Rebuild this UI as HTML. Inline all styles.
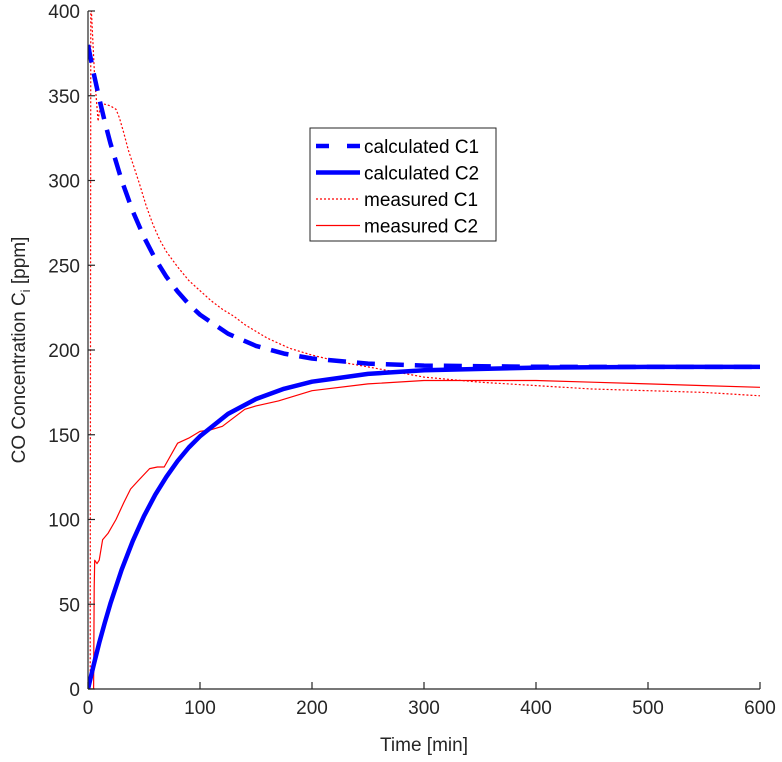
<!DOCTYPE html>
<html><head><meta charset="utf-8"><style>
body{margin:0;background:#fff;}
svg{display:block;font-family:"Liberation Sans",sans-serif;}
</style></head><body>
<svg id="chart" width="782" height="762"></svg>
<script>
const xTicks=[0,100,200,300,400,500,600];
const yTicks=[0,50,100,150,200,250,300,350,400];
const calcT=[0,5,10,15,20,30,40,50,60,70,80,90,100,125,150,175,200,250,300,400,500,600];
const calcC1=[380,363.5,348.5,334.6,322,300.2,281.8,266.6,253.8,243.2,234.5,227,220.8,209.6,202.4,197.9,195,192,190.8,190.1,190,190];
const calcC2=[0,14,27.2,39.1,50.4,70.3,87.4,102,114.6,125.2,134.5,142.5,149.1,162.3,171.1,177.1,181.3,185.9,188.1,189.6,190,190];
const measC1T=[0,2,2.5,3,6,9,11,15,20,25,28,32,36,40,46,52,58,64,70,80,90,100,110,120,130,140,150,160,180,200,225,250,300,350,400,450,500,550,600];
const measC1=[0,0,400,400,360,335,345,345,344,342,337,328,318,310,298,285,274,265,258,249,241,235,229,224,220,215,211,207,201,197,193,190,184,181,179,177,176,175,173];
const measC2T=[0,5,5.5,6,8,10,13,18,25,32,38,45,55,62,68,80,90,100,110,120,130,140,150,170,200,250,300,350,400,450,500,550,600];
const measC2=[0,0,60,76,74,76,88,92,100,110,118,123,130,131,131,145,148,152,153,155,160,165,167,170,176,180,182,182,182,181,180,179,178];
const X0=88,X1=760,Y0=689,Y1=11;
const sx=t=>X0+(X1-X0)*t/600, sy=v=>Y0-(Y0-Y1)*v/400;
const svg=document.getElementById('chart');const NS='http://www.w3.org/2000/svg';
function mk(tag,attrs,parent){const e=document.createElementNS(NS,tag);for(const k in attrs)e.setAttribute(k,attrs[k]);(parent||svg).appendChild(e);return e;}
const clip=mk('clipPath',{id:'pc'});mk('rect',{x:X0,y:Y1,width:X1-X0,height:Y0-Y1},clip);
function series(ts,vs,style,name){const d=ts.map((t,i)=>(i?'L':'M')+sx(t).toFixed(1)+','+sy(vs[i]).toFixed(1)).join('');const p=mk('path',Object.assign({d:d,fill:'none','clip-path':'url(#pc)','stroke-linejoin':'round'},style));

}
series(measC1T,measC1,{stroke:'#f00','stroke-width':1.2,'stroke-dasharray':'2,2'},'measured-c1-line');
series(measC2T,measC2,{stroke:'#f00','stroke-width':1.2},'measured-c2-line');
series(calcT,calcC1,{stroke:'#00f','stroke-width':4.5,'stroke-dasharray':'18,11'},'calculated-c1-line');
series(calcT,calcC2,{stroke:'#00f','stroke-width':4.5},'calculated-c2-line');
const ax=mk('g',{stroke:'#262626','stroke-width':1.2});


mk('line',{x1:X0,y1:Y0,x2:X1,y2:Y0},ax);mk('line',{x1:X0,y1:Y0,x2:X0,y2:Y1},ax);
xTicks.forEach(t=>{mk('line',{x1:sx(t),y1:Y0,x2:sx(t),y2:Y0-7},ax);const tx=mk('text',{x:sx(t),y:Y0+25,'text-anchor':'middle','font-size':19,fill:'#262626'});tx.textContent=t;

});
yTicks.forEach(v=>{mk('line',{x1:X0,y1:sy(v),x2:X0+7,y2:sy(v)},ax);const tx=mk('text',{x:X0-8,y:sy(v)+7,'text-anchor':'end','font-size':19,fill:'#262626'});tx.textContent=v;

});
const xl=mk('text',{x:424,y:751,'text-anchor':'middle','font-size':19,fill:'#262626'});xl.textContent='Time [min]';


const yl=mk('text',{x:0,y:0,'text-anchor':'middle','font-size':19,fill:'#262626',transform:'translate(25,350) rotate(-90)'});
yl.innerHTML='CO Concentration C<tspan font-size="13" dy="5">i</tspan><tspan dy="-5"> [ppm]</tspan>';


const lg=mk('g',{});


mk('rect',{x:310,y:128,width:186,height:113,fill:'#fff',stroke:'#262626','stroke-width':1},lg);
const ent=[['calculated C1',{stroke:'#00f','stroke-width':4.5,'stroke-dasharray':'13,18'}],['calculated C2',{stroke:'#00f','stroke-width':4.5}],['measured C1',{stroke:'#f00','stroke-width':1.2,'stroke-dasharray':'2,2'}],['measured C2',{stroke:'#f00','stroke-width':1.2}]];
ent.forEach((e,i)=>{const y=146+i*26.5;mk('line',Object.assign({x1:316,y1:y,x2:360,y2:y},e[1]),lg);const t=mk('text',{x:364,y:y+7,'font-size':19,fill:'#000'},lg);t.textContent=e[0];

});
</script>
</body></html>
